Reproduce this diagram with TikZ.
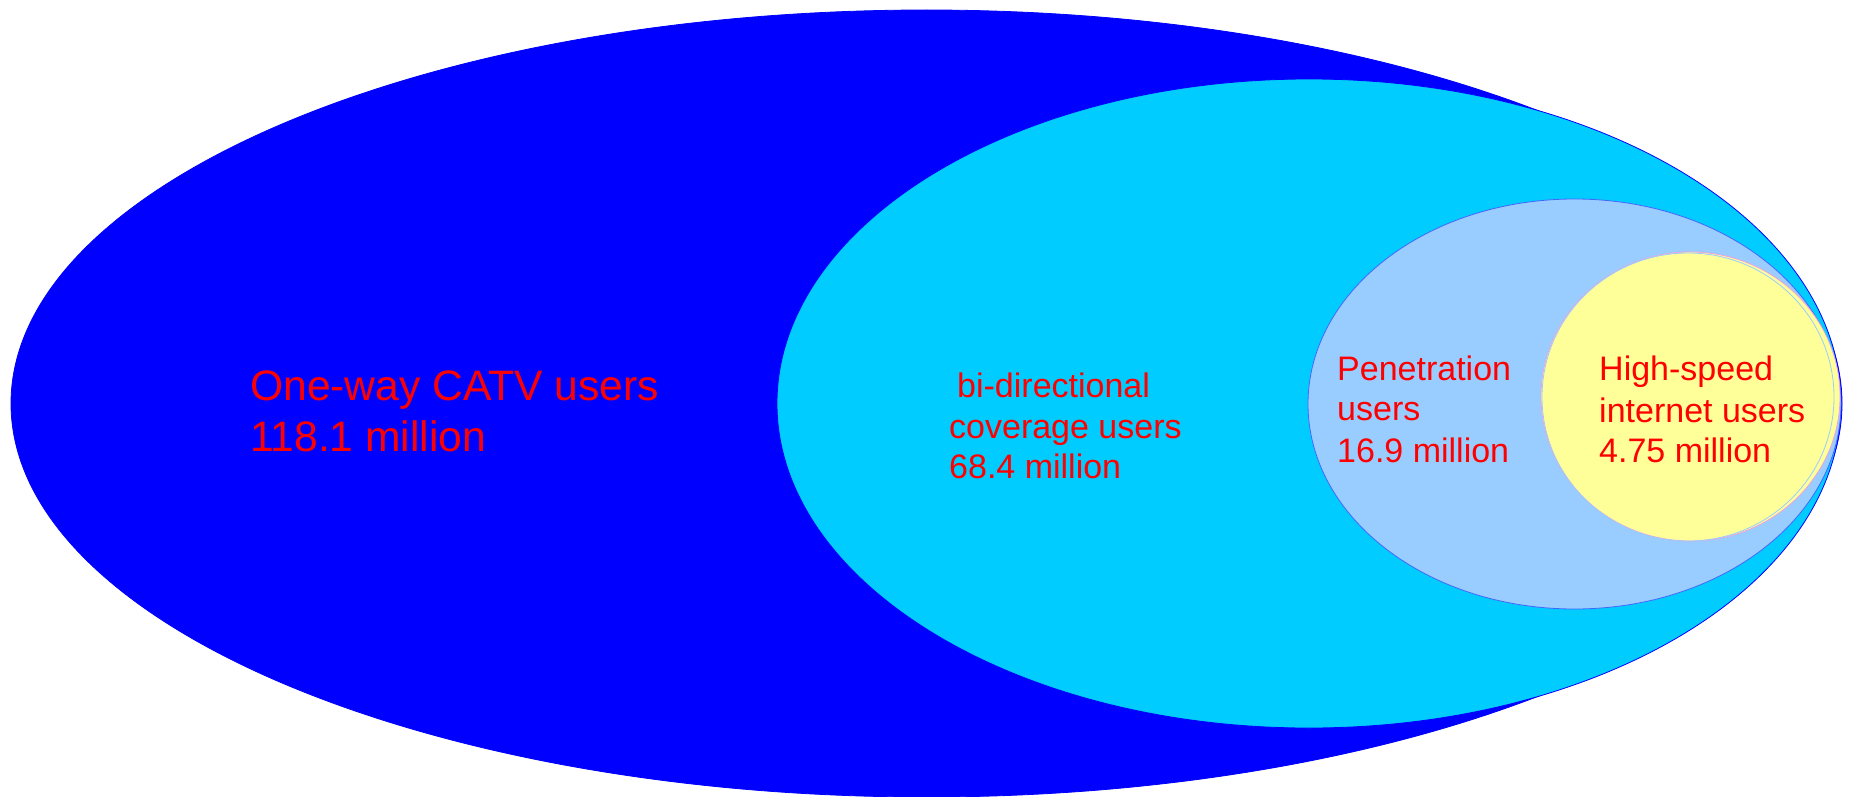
\documentclass[tikz,border=0pt]{standalone}
\usepackage{fontspec}
\setmainfont{Liberation Sans}
\definecolor{outerblue}{HTML}{0000FF}
\definecolor{cyanfill}{HTML}{00CCFF}
\definecolor{lightblue}{HTML}{99CCFF}
\definecolor{lbedge}{HTML}{4466FF}
\definecolor{yellowfill}{HTML}{FFFF99}
\definecolor{yedge}{HTML}{F0A0E0}
\definecolor{labelred}{HTML}{FF0000}
\tikzset{
  lblbig/.style={anchor=base west, inner sep=0pt, text=labelred, font=\fontsize{42.6}{51}\selectfont},
  lbl/.style={anchor=base west, inner sep=0pt, text=labelred, font=\fontsize{34}{41}\selectfont},
}
\begin{document}
\begin{tikzpicture}[x=1pt,y=-1pt]
\fill[white] (0,0) rectangle (1849,797);
\useasboundingbox (0,0) rectangle (1849,797);
% ellipses
\filldraw[fill=outerblue, draw=outerblue, line width=0.8pt] (926.5,403.5) ellipse [x radius=915.5pt, y radius=393.5pt];
\filldraw[fill=cyanfill, draw=outerblue, line width=0.8pt] (1309,403.5) ellipse [x radius=532pt, y radius=324.5pt];
\filldraw[fill=lightblue, draw=lbedge, line width=0.8pt] (1574.5,404) ellipse [x radius=266.5pt, y radius=205pt];
\filldraw[fill=yellowfill, draw=yedge, line width=0.8pt] (1690.5,396.5) ellipse [x radius=149.5pt, y radius=144.5pt];
\draw[draw=lightblue, line width=0.8pt] (1688,397) ellipse [x radius=146pt, y radius=144pt];
% labels
\node[lblbig] (catvA) at (250,400) {One-way CATV users};
\node[lblbig] (catvB) at (250,451) {118.1 million};
\node[lbl] (biA) at (957,397) {bi-directional};
\node[lbl] (biB) at (949,438) {coverage users};
\node[lbl] (biC) at (949,478) {68.4 million};
\node[lbl] (penA) at (1337,380) {Penetration};
\node[lbl] (penB) at (1337,420) {users};
\node[lbl] (penC) at (1337,462) {16.9 million};
\node[lbl] (hsA) at (1599,380) {High-speed};
\node[lbl] (hsB) at (1599,422) {internet users};
\node[lbl] (hsC) at (1599,462) {4.75 million};
\end{tikzpicture}
\end{document}
